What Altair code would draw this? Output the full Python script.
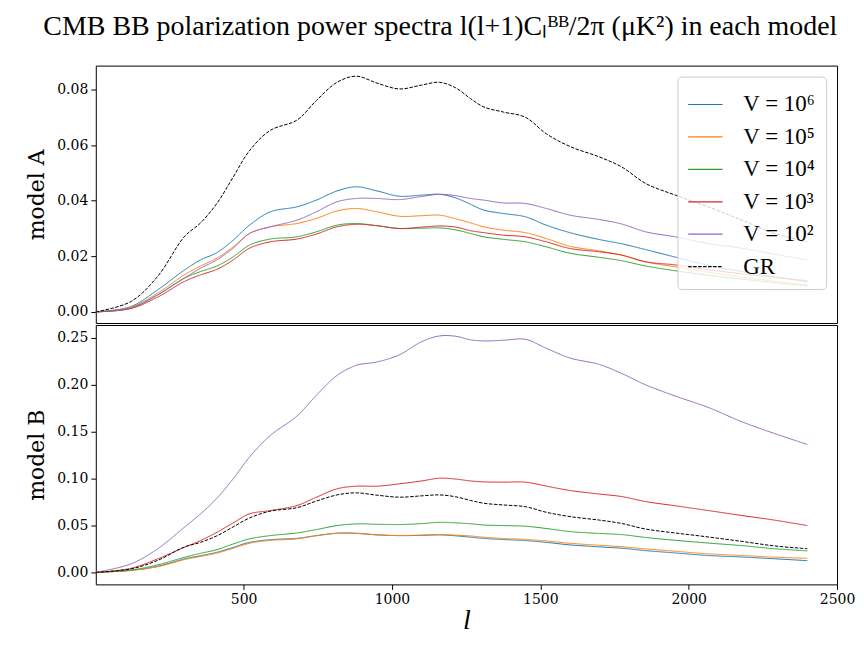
import altair as alt
import pandas as pd

L = [2, 120, 210, 300, 355, 410, 465, 520, 590, 680, 745, 815, 880, 950, 1025, 1100,
     1160, 1215, 1265, 1310, 1375, 1450, 1520, 1600, 1700, 1775, 1855, 1955, 2065, 2180, 2290, 2400]

SERIES = ["V = 10⁶", "V = 10⁵", "V = 10⁴", "V = 10³", "V = 10²", "GR"]
COLORS = ["#1f77b4", "#ff7f0e", "#2ca02c", "#d62728", "#9467bd", "#000000"]

GR = [0, 0.0037, 0.0127, 0.027, 0.032, 0.039, 0.0485, 0.058, 0.0653, 0.069, 0.076, 0.0826,
      0.0848, 0.0823, 0.0802, 0.0816, 0.0826, 0.0806, 0.0767, 0.0737, 0.0719, 0.070, 0.0641,
      0.0595, 0.0557, 0.0521, 0.0462, 0.042, 0.0378, 0.033, 0.0282, 0.0252]

A_V6 = [0, 0.0019, 0.0079, 0.015, 0.0187, 0.0213, 0.0258, 0.0312, 0.036, 0.0378, 0.0402, 0.0435,
        0.045, 0.0435, 0.0416, 0.042, 0.0423, 0.041, 0.0387, 0.0366, 0.0354, 0.0342, 0.0312,
        0.0285, 0.026, 0.0245, 0.0224, 0.0197, 0.0168, 0.0145, 0.0126, 0.0108]
A_V5 = [0, 0.0017, 0.0067, 0.0133, 0.0165, 0.0193, 0.0234, 0.0282, 0.0306, 0.0318, 0.0336, 0.0363,
        0.0372, 0.036, 0.0344, 0.0346, 0.0348, 0.0335, 0.032, 0.0306, 0.0294, 0.0285, 0.0264,
        0.0236, 0.0219, 0.0204, 0.018, 0.0162, 0.0143, 0.0125, 0.011, 0.0098]
A_V4 = [0, 0.0013, 0.0061, 0.0121, 0.0145, 0.0165, 0.0198, 0.024, 0.0262, 0.027, 0.0288, 0.0312,
        0.0318, 0.031, 0.030, 0.0301, 0.0302, 0.0295, 0.0282, 0.027, 0.0261, 0.0252, 0.0234,
        0.0211, 0.0196, 0.0184, 0.0165, 0.0148, 0.0132, 0.0118, 0.0105, 0.0093]
A_V3 = [0, 0.0012, 0.0053, 0.0109, 0.0133, 0.0153, 0.0187, 0.0229, 0.0252, 0.0262, 0.028, 0.0306,
        0.0315, 0.031, 0.030, 0.0305, 0.0309, 0.0305, 0.0292, 0.0285, 0.0276, 0.027, 0.0252,
        0.0228, 0.0216, 0.0204, 0.018, 0.0169, 0.0152, 0.0137, 0.0124, 0.0112]
A_V2 = [0, 0.0015, 0.0061, 0.0121, 0.0157, 0.0187, 0.0229, 0.0282, 0.0306, 0.033, 0.036, 0.0396,
        0.0408, 0.0408, 0.0404, 0.0415, 0.0423, 0.0418, 0.0408, 0.0402, 0.0392, 0.039, 0.0372,
        0.0348, 0.0332, 0.0316, 0.0288, 0.027, 0.0246, 0.0229, 0.0207, 0.0187]

B_V6 = [0, 0.0022, 0.0064, 0.0143, 0.0178, 0.0214, 0.0267, 0.032, 0.0349, 0.0363, 0.0392, 0.0417,
        0.0417, 0.040, 0.0392, 0.0395, 0.040, 0.039, 0.0375, 0.0362, 0.035, 0.0339, 0.032,
        0.0293, 0.0272, 0.0257, 0.0232, 0.0207, 0.018, 0.0164, 0.0145, 0.0125]
B_V5 = [0, 0.002, 0.006, 0.0135, 0.017, 0.0205, 0.0257, 0.031, 0.034, 0.0358, 0.039, 0.0417,
        0.0415, 0.040, 0.0393, 0.0397, 0.0402, 0.0397, 0.0388, 0.0375, 0.0362, 0.0352, 0.0335,
        0.031, 0.0289, 0.0273, 0.025, 0.0225, 0.0198, 0.018, 0.0162, 0.015]
B_V4 = [0, 0.0025, 0.0079, 0.016, 0.0203, 0.0242, 0.0303, 0.0357, 0.0392, 0.042, 0.0456, 0.0499,
        0.0517, 0.0513, 0.051, 0.052, 0.0534, 0.0528, 0.0518, 0.0505, 0.0499, 0.0492, 0.0468,
        0.0435, 0.0415, 0.0403, 0.0372, 0.0342, 0.0313, 0.0285, 0.0252, 0.0229]
B_V3 = [0, 0.0043, 0.0143, 0.0267, 0.0339, 0.0427, 0.0528, 0.0624, 0.0659, 0.0713, 0.0801, 0.0891,
        0.0919, 0.0919, 0.0944, 0.0975, 0.1004, 0.0995, 0.0975, 0.0965, 0.0962, 0.0962, 0.092,
        0.0873, 0.0835, 0.0808, 0.0755, 0.071, 0.066, 0.0606, 0.0557, 0.0499]
B_V2 = [0, 0.009, 0.025, 0.048, 0.0624, 0.079, 0.0998, 0.123, 0.146, 0.1667, 0.1888, 0.210,
        0.2208, 0.2244, 0.232, 0.246, 0.2521, 0.2518, 0.248, 0.2468, 0.2475, 0.2485, 0.239,
        0.2286, 0.2216, 0.212, 0.200, 0.188, 0.176, 0.1605, 0.148, 0.1364]

TOP_TICKS = [0.0, 0.02, 0.04, 0.06, 0.08]
BOT_TICKS = [0.0, 0.05, 0.10, 0.15, 0.20, 0.25]
X_TICKS = [500, 1000, 1500, 2000, 2500]


def frame(series_lists):
    rows = []
    for name, vals in zip(SERIES, series_lists):
        for l, v in zip(L, vals):
            rows.append({"l": l, "value": v, "series": name, "order": SERIES.index(name)})
    return pd.DataFrame(rows)


dfA = frame([A_V6, A_V5, A_V4, A_V3, A_V2, GR])
dfB = frame([B_V6, B_V5, B_V4, B_V3, B_V2, GR])

DASHES = [[1, 0]] * 5 + [[3.5, 1.5]]
FONT = "DejaVu Serif"

legend = alt.Legend(
    title=None, orient="top-right", offset=11,
    symbolType="stroke", symbolSize=1190, symbolStrokeWidth=1.2,
    labelFont="Liberation Serif", labelFontSize=23, labelOffset=20,
    rowPadding=2.5, padding=10,
    fillColor="rgba(255,255,255,0.8)", strokeColor="#cccccc", cornerRadius=4,
)

color_scale = alt.Scale(domain=SERIES, range=COLORS)
dash_scale = alt.Scale(domain=SERIES, range=DASHES)

xscale = alt.Scale(domain=[2, 2500], nice=False, zero=False)
INTERP = "catmull-rom"

top = alt.Chart(dfA).mark_line(strokeWidth=1, interpolate=INTERP).encode(
    x=alt.X("l:Q", scale=xscale, axis=None),
    y=alt.Y("value:Q", scale=alt.Scale(domain=[-0.0040, 0.0886], nice=False, zero=False),
            axis=alt.Axis(values=TOP_TICKS, format=".2f", title="model A")),
    color=alt.Color("series:N", scale=color_scale, legend=legend),
    strokeDash=alt.StrokeDash("series:N", scale=dash_scale, legend=legend),
    order=alt.Order("order:Q"),
).properties(width=743, height=258)

bottom = alt.Chart(dfB).mark_line(strokeWidth=1, interpolate=INTERP).encode(
    x=alt.X("l:Q", scale=xscale,
            axis=alt.Axis(values=X_TICKS, format="d", title="l", titleFontSize=28,
                          titleFontStyle="italic", titleFont="Liberation Serif", titlePadding=0)),
    y=alt.Y("value:Q", scale=alt.Scale(domain=[-0.0128, 0.2638], nice=False, zero=False),
            axis=alt.Axis(values=BOT_TICKS, format=".2f", title="model B")),
    color=alt.Color("series:N", scale=color_scale, legend=None),
    strokeDash=alt.StrokeDash("series:N", scale=dash_scale, legend=None),
    order=alt.Order("order:Q"),
).properties(width=743, height=260)

chart = alt.vconcat(top, bottom, spacing=0).resolve_legend(
    color="independent", strokeDash="independent"
).properties(
    title=alt.TitleParams(
        "CMB BB polarization power spectra l(l+1)Cₗᴮᴮ/2π (μK²) in each model",
        font="Liberation Serif", fontSize=28, fontWeight="normal", color="black",
        anchor="middle", offset=24,
    ),
    padding={"left": 17, "top": 4, "right": 0, "bottom": 0},
).configure_view(
    stroke="black", strokeWidth=1
).configure_axis(
    domain=False, grid=False, ticks=True, tickColor="black", tickSize=5, tickWidth=1,
    labelFont=FONT, labelFontSize=14, labelColor="black", labelPadding=3, labelFlush=False,
    titleFont=FONT, titleFontSize=22, titleFontWeight="normal", titleColor="black",
    titlePadding=8,
).configure_concat(spacing=0)

chart.save("out.html", embed_options={"renderer": "svg", "actions": False})
